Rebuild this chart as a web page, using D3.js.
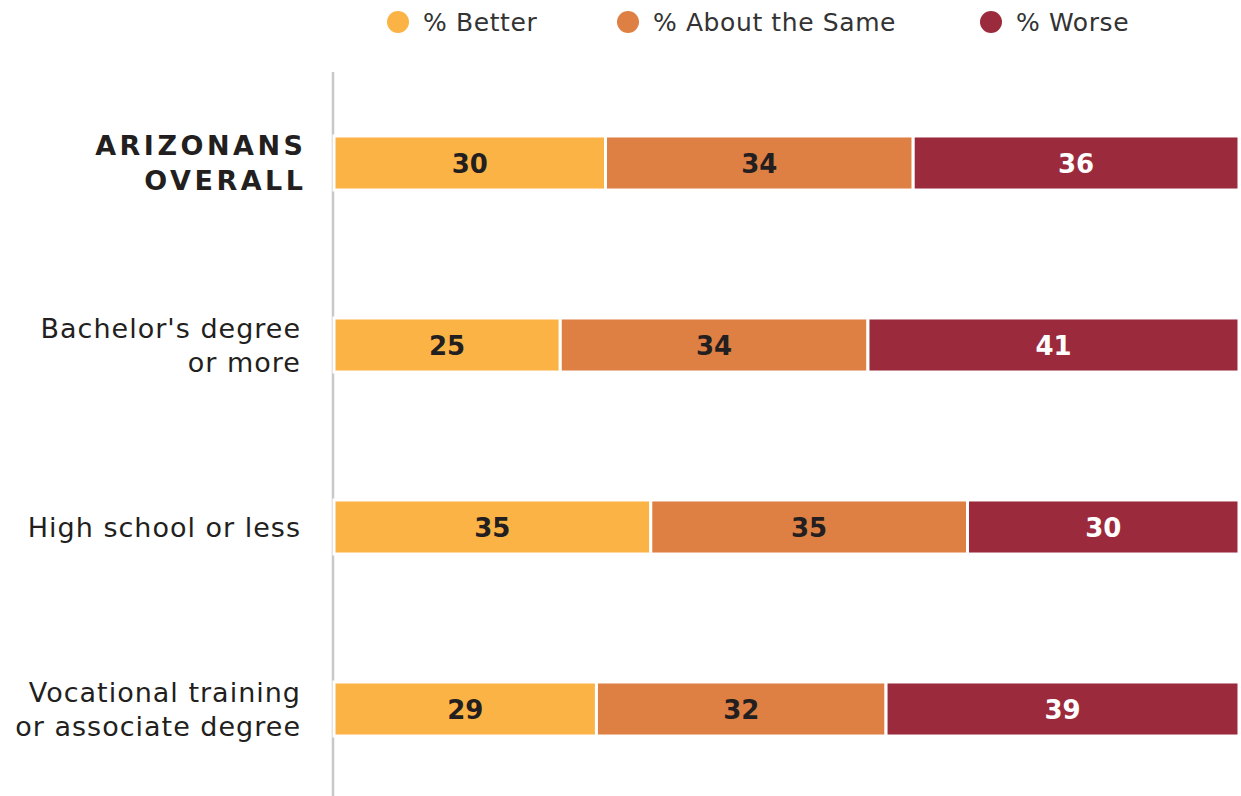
<!DOCTYPE html>
<html><head><meta charset="utf-8">
<script src="https://cdn.jsdelivr.net/npm/d3@7"></script>
<style>body{margin:0;background:#fff;} svg{display:block;}</style>
</head><body>
<svg id="chart" width="1241" height="796"></svg>
<script>
const categories = [["ARIZONANS","OVERALL"],["Bachelor's degree","or more"],["High school or less"],["Vocational training","or associate degree"]];
const series = ["% Better","% About the Same","% Worse"];
const better = [30,25,35,29];
const aboutSame = [34,34,35,32];
const worse = [36,41,30,39];
const colors = ["#FBB346","#DE8043","#9B2B3C"];
const labelColors = ["#231f20","#231f20","#ffffff"];

const svg = d3.select("#chart");
const font = "'DejaVu Sans', sans-serif";
const keys = categories.map(c => c.join(" "));
const rows = keys.map((k,i) => ({key:k, vals:[better[i], aboutSame[i], worse[i]]}));

const x = d3.scaleLinear().domain([0,100]).range([334,1239]);
const y = d3.scaleBand().domain(keys).range([72,800]).paddingInner(0.703).paddingOuter(0.3515);

// axis line
svg.append("line").attr("x1",333).attr("x2",333).attr("y1",72).attr("y2",796)
  .attr("stroke","#c8c8c8").attr("stroke-width",2.5);

const stack = d3.stack().keys([0,1,2]).value((d,k)=>d.vals[k]);
const stacked = stack(rows);

stacked.forEach((layer, si) => {
  const g = svg.append("g");
  g.selectAll("rect").data(layer).join("rect")
    .attr("x", d => x(d[0])).attr("width", d => x(d[1]) - x(d[0]))
    .attr("y", (d,i) => y(keys[i])).attr("height", y.bandwidth())
    .attr("fill", colors[si]).attr("stroke","#fff").attr("stroke-width",3);
  g.selectAll("text").data(layer).join("text")
    .attr("x", d => (x(d[0]) + x(d[1]))/2)
    .attr("y", (d,i) => y(keys[i]) + y.bandwidth()/2 + 1)
    .attr("dy","0.36em").attr("text-anchor","middle")
    .attr("font-family",font).attr("font-weight","bold").attr("font-size",26)
    .attr("fill", labelColors[si])
    .text(d => d[1]-d[0]);
});

// category labels
categories.forEach((lines, i) => {
  const cy = y(keys[i]) + y.bandwidth()/2;
  const bold = i === 0;
  const lh = bold ? 35 : 34;
  const t = svg.append("text").attr("text-anchor","end")
    .attr("font-family",font).attr("font-size", 27)
    .attr("font-weight", bold ? "bold" : "normal")
    .attr("letter-spacing", bold ? 3.5 : 1)
    .attr("fill", "#231f20");
  lines.forEach((ln, j) => {
    t.append("tspan").attr("x", bold ? 306.5 : 301)
      .attr("y", cy + (j - (lines.length-1)/2)*lh)
      .attr("dy","0.36em").text(ln);
  });
});

// legend
const legendX = [398, 628, 991];
series.forEach((s, i) => {
  svg.append("circle").attr("cx", legendX[i]).attr("cy", 22).attr("r", 11).attr("fill", colors[i]);
  svg.append("text").attr("x", legendX[i] + 25).attr("y", 22).attr("dy","0.36em")
    .attr("font-family",font).attr("font-size",25).attr("letter-spacing",0.6)
    .attr("fill","#333").text(s);
});
</script>
</body></html>
